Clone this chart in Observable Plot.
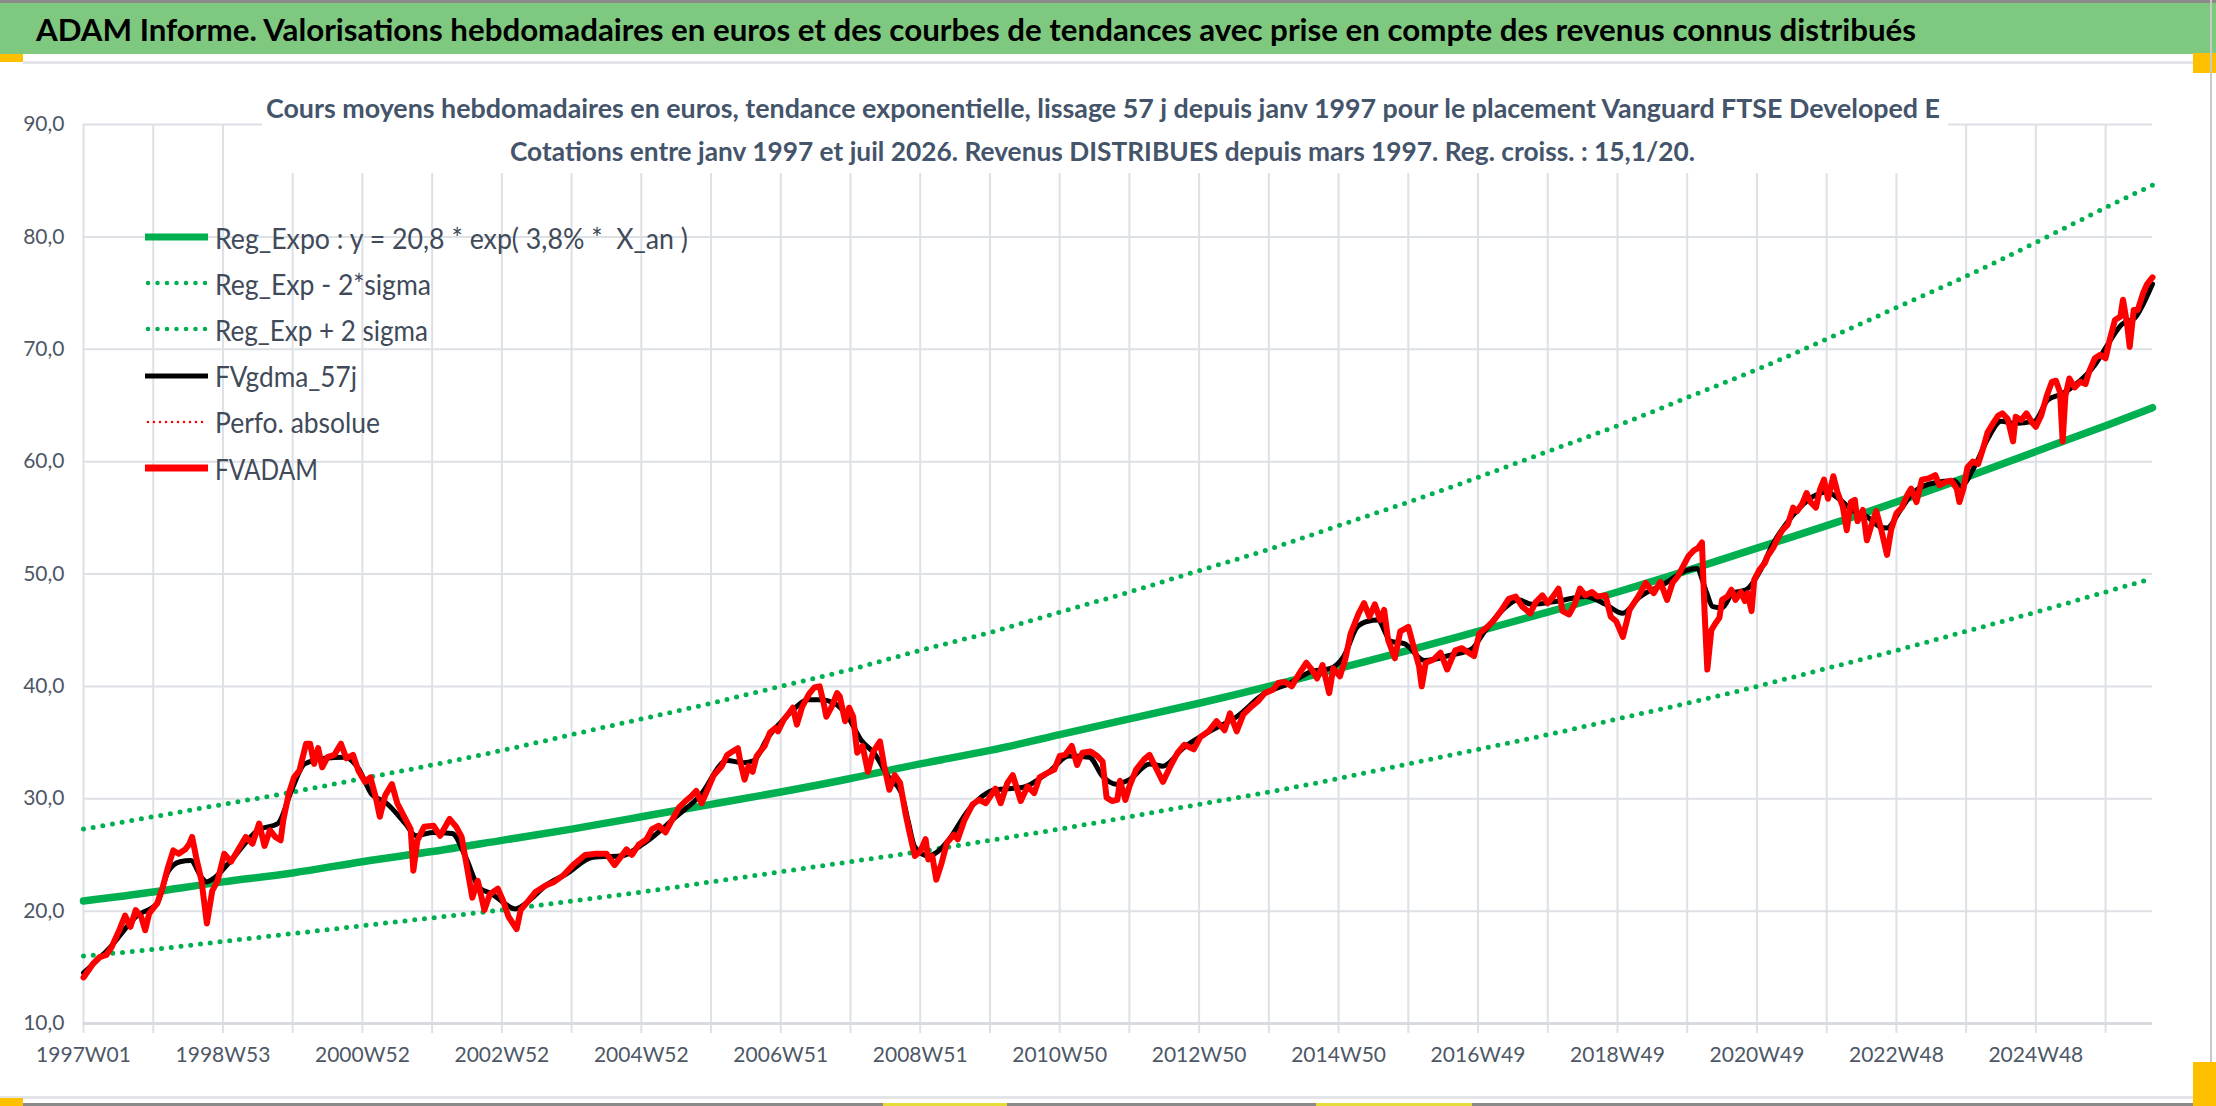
<!DOCTYPE html>
<html>
<head>
<meta charset="utf-8">
<script src="https://cdn.jsdelivr.net/npm/d3@7"></script>
<script src="https://cdn.jsdelivr.net/npm/@observablehq/plot@0.6"></script>
<style>
  html, body { margin: 0; padding: 0; background: #fff; }
  #page { position: relative; width: 2216px; height: 1106px; overflow: hidden; background: #fff; font-family: Lato, "Open Sans", sans-serif; }
  .abs { position: absolute; }
  .fit { display: inline-block; white-space: pre; transform-origin: left center; }
  #title { left: 0; top: 3px; width: 2216px; height: 51px; background: #7EC87F; }
  #titleText { position: absolute; left: 36px; top: 0; line-height: 52px; font-size: 30px; font-weight: 700; color: #000; }
  #subBox { left: 262px; top: 78px; width: 1686px; height: 95px; background: #fff; }
  .sub { position: absolute; font-size: 26px; font-weight: 700; color: #44546A; line-height: 32px; }
  #legend { left: 145px; top: 214px; }
  .row { position: absolute; left: 0; height: 46px; display: flex; align-items: center; }
  .row svg { width: 63px; height: 46px; flex: none; }
  .row .fit { margin-left: 7px; font-size: 29px; color: #404A59; }
  #chart { left: 0; top: 0; }
</style>
</head>
<body>
<div id="page">
  <div class="abs" style="left:0;top:0;width:2216px;height:3px;background:#8A8A8A"></div>
  <div id="title" class="abs"><span id="titleText" class="fit">ADAM Informe. Valorisations hebdomadaires en euros et des courbes de tendances avec prise en compte des revenus connus distribués</span></div>
  <div class="abs" style="left:23px;top:61px;width:2170px;height:3px;background:#E3E5E8"></div>
  <div class="abs" style="left:0;top:54px;width:23px;height:8px;background:#FFC000"></div>
  <div class="abs" style="left:2193px;top:53px;width:23px;height:20px;background:#FFC000"></div>
  <div class="abs" style="left:2210px;top:0;width:2px;height:1106px;background:#C8C8C8"></div>
  <div class="abs" style="left:0;top:1096px;width:2200px;height:3px;background:#E3E5E8"></div>
  <div class="abs" style="left:0;top:1103px;width:2216px;height:3px;background:#8A8A8A"></div>
  <div class="abs" style="left:0;top:1098px;width:23px;height:8px;background:#FFC000"></div>
  <div class="abs" style="left:883px;top:1103px;width:124px;height:3px;background:#E5DC3A"></div>
  <div class="abs" style="left:1316px;top:1103px;width:156px;height:3px;background:#E5DC3A"></div>
  <div class="abs" style="left:2193px;top:1062px;width:23px;height:44px;background:#FFC000"></div>
  <div id="chartWrap"></div>
  <div id="subBox" class="abs">
    <span id="sub1" class="sub fit">Cours moyens hebdomadaires en euros, tendance exponentielle, lissage 57 j depuis janv 1997 pour le placement Vanguard FTSE Developed E</span>
    <span id="sub2" class="sub fit">Cotations entre janv 1997 et juil 2026. Revenus DISTRIBUES depuis mars 1997. Reg. croiss. : 15,1/20.</span>
  </div>
  <div id="legend" class="abs"></div>
</div>
<script>
// ---------- DATA ----------
const xTickLabels = ["1997W01","1998W53","2000W52","2002W52","2004W52","2006W51","2008W51","2010W50","2012W50","2014W50","2016W49","2018W49","2020W49","2022W48","2024W48"];
const weeksPerLabel = 104;
const weeksPerGrid = 52;
const lastWeek = 1543;
const yTicks = [10, 20, 30, 40, 50, 60, 70, 80, 90];

// Reg_Expo trend read at yearly gridlines (week index, value)
const regExpo = [[0,20.9],[52,21.7],[104,22.6],[156,23.4],[208,24.4],[260,25.3],[312,26.3],[364,27.3],[416,28.4],[468,29.5],[520,30.6],[572,31.8],[624,33.1],[676,34.3],[728,35.7],[780,37.1],[832,38.5],[884,40.0],[936,41.6],[988,43.2],[1040,44.9],[1092,46.6],[1144,48.4],[1196,50.3],[1248,52.3],[1300,54.3],[1352,56.4],[1404,58.6],[1456,60.9],[1508,63.2],[1543,64.8]];
const regMinus2Sigma = [[0,16.0],[52,16.6],[104,17.3],[156,18.0],[208,18.7],[260,19.4],[312,20.1],[364,20.9],[416,21.7],[468,22.6],[520,23.5],[572,24.4],[624,25.3],[676,26.3],[728,27.3],[780,28.4],[832,29.5],[884,30.6],[936,31.8],[988,33.1],[1040,34.4],[1092,35.7],[1144,37.1],[1196,38.5],[1248,40.0],[1300,41.6],[1352,43.2],[1404,44.9],[1456,46.6],[1508,48.4],[1543,49.6]];
const regPlus2Sigma = [[0,27.3],[52,28.4],[104,29.5],[156,30.6],[208,31.8],[260,33.0],[312,34.3],[364,35.7],[416,37.1],[468,38.5],[520,40.0],[572,41.5],[624,43.2],[676,44.8],[728,46.6],[780,48.4],[832,50.3],[884,52.2],[936,54.3],[988,56.4],[1040,58.6],[1092,60.9],[1144,63.2],[1196,65.7],[1248,68.2],[1300,70.9],[1352,73.7],[1404,76.5],[1456,79.5],[1508,82.6],[1543,84.6]];

// FVADAM weekly valuation (week index, value)
const fvadam = [[0,14.1],[7,15.3],[12,15.9],[17,16.1],[21,16.8],[27,18.4],[31,19.6],[35,18.6],[39,20.1],[43,19.5],[46,18.3],[49,19.8],[55,20.7],[59,22.1],[63,23.9],[67,25.4],[71,25.1],[76,25.5],[79,26.0],[81,26.6],[84,24.8],[88,22.7],[92,18.9],[96,21.8],[100,22.7],[105,25.1],[110,24.4],[115,25.4],[121,26.6],[126,26.0],[131,27.8],[135,25.8],[139,27.2],[143,26.6],[147,26.3],[149,28.1],[153,30.4],[157,31.9],[161,32.5],[166,34.9],[169,34.9],[172,33.1],[175,34.5],[178,32.8],[182,33.7],[187,33.9],[192,34.9],[196,33.6],[201,33.9],[205,32.5],[210,31.5],[214,31.9],[218,30.1],[221,28.4],[225,30.3],[230,31.3],[234,29.6],[240,28.2],[244,27.3],[246,23.6],[249,26.3],[254,27.5],[261,27.6],[266,26.7],[273,28.2],[278,27.5],[282,26.6],[286,23.9],[290,21.2],[294,22.7],[299,20.1],[303,21.5],[309,22.0],[313,20.9],[317,19.5],[323,18.4],[326,20.1],[331,20.8],[337,21.7],[345,22.3],[351,22.6],[358,23.2],[366,24.2],[374,25.0],[382,25.1],[390,25.1],[396,24.1],
[405,25.5],[409,25.0],[414,25.9],[420,26.4],[424,27.3],[429,27.6],[434,27.0],[438,27.9],[444,29.2],[449,29.8],[453,30.2],[457,30.7],[461,29.6],[465,30.7],[470,32.1],[476,32.9],[480,33.9],[484,34.2],[488,34.5],[490,33.2],[493,31.7],[496,32.9],[499,32.4],[502,33.8],[508,34.7],[512,35.9],[516,36.3],[518,36.0],[522,37.0],[526,37.6],[529,38.1],[532,36.6],[536,38.2],[541,39.3],[545,39.9],[549,40.0],[552,38.5],[554,37.3],[558,38.2],[562,39.4],[564,39.1],[568,36.9],[571,38.1],[574,37.3],[577,34.1],[581,34.7],[585,32.4],[589,34.2],[594,35.1],[597,33.0],[601,30.8],[605,32.1],[609,31.4],[613,28.7],[616,27.0],[620,24.9],[624,25.3],[628,26.4],[630,24.6],[633,24.9],[636,22.8],[640,24.3],[644,26.1],[649,26.8],[652,26.4],[657,28.1],[663,29.5],[668,29.9],[673,29.6],[680,30.9],[684,29.6],[689,31.4],[693,32.1],[699,29.8],[704,31.1],[709,30.5],[713,31.9],[719,32.3],[724,32.6],[728,33.8],[732,33.9],[737,34.7],[741,33.0],[745,34.1],[751,34.2],[756,33.8],[760,33.3],[763,30.1],[767,29.8],[771,29.9],[773,31.6],[777,29.9],[780,31.1],[785,32.6],[791,33.5],[795,33.9],[800,32.7],
[805,31.5],[811,33.0],[816,34.1],[821,34.8],[828,34.4],[833,35.5],[839,36.0],[845,36.9],[851,36.1],[855,37.6],[860,36.0],[865,37.5],[871,38.2],[876,38.7],[881,39.4],[887,39.7],[891,40.3],[896,40.4],[901,40.0],[907,41.2],[912,42.1],[916,41.5],[920,40.7],[924,41.9],[929,39.4],[932,41.6],[937,40.9],[941,42.4],[945,44.7],[951,46.5],[955,47.4],[959,46.2],[963,47.3],[967,45.9],[970,46.8],[973,44.1],[978,42.5],[982,44.9],[988,45.3],[992,43.5],[996,41.8],[998,40.0],[1001,42.1],[1007,42.4],[1012,43.0],[1017,41.5],[1023,43.2],[1028,43.4],[1033,43.0],[1037,42.7],[1041,44.7],[1047,45.3],[1052,45.9],[1057,46.7],[1063,47.8],[1068,48.0],[1073,47.1],[1079,46.5],[1083,47.5],[1088,48.1],[1092,47.4],[1096,48.0],[1100,48.7],[1103,46.7],[1108,46.4],[1112,47.3],[1116,48.7],[1120,48.1],[1125,48.4],[1129,48.0],[1135,48.1],[1139,46.2],[1143,45.8],[1148,44.4],[1153,46.8],[1160,48.1],[1165,49.2],[1171,48.3],[1176,49.3],[1181,47.7],[1185,49.2],[1189,49.8],[1193,50.7],[1197,51.6],[1201,52.1],[1204,52.3],[1207,52.8],
[1209,46.5],[1211,41.5],[1214,45.0],[1217,45.6],[1220,46.1],[1222,47.7],[1226,48.0],[1229,48.6],[1232,47.7],[1236,48.4],[1239,47.6],[1241,48.3],[1244,46.7],[1246,49.5],[1250,50.4],[1254,51.0],[1256,51.6],[1260,52.3],[1264,53.3],[1267,53.9],[1271,54.4],[1275,55.9],[1278,55.6],[1282,56.3],[1285,57.2],[1288,56.4],[1292,55.9],[1295,57.5],[1298,58.4],[1301,56.7],[1305,58.7],[1308,57.3],[1312,56.0],[1315,53.9],[1318,56.4],[1321,56.6],[1323,54.7],[1327,55.7],[1330,53.0],[1333,54.2],[1337,55.6],[1341,53.8],[1345,51.7],[1348,53.9],[1352,55.4],[1356,55.9],[1360,57.0],[1363,57.6],[1367,56.4],[1371,58.4],[1376,58.5],[1381,58.8],[1384,57.9],[1389,58.2],[1393,58.3],[1397,57.6],
[1399,56.4],[1402,57.6],[1405,59.5],[1409,60.0],[1413,59.8],[1417,61.3],[1420,62.6],[1424,63.4],[1428,64.1],[1431,64.3],[1435,63.8],[1439,61.8],[1441,64.0],[1445,63.7],[1449,64.3],[1453,63.5],[1456,63.1],[1460,64.1],[1464,65.8],[1468,67.1],[1471,67.2],[1474,66.2],[1476,61.8],[1478,65.8],[1481,67.4],[1485,66.6],[1489,67.1],[1493,66.9],[1496,68.1],[1500,69.2],[1504,69.5],[1508,69.2],[1511,70.8],[1515,72.6],[1519,72.9],[1521,74.4],[1524,72.3],[1526,70.2],[1529,73.5],[1532,73.5],[1536,75.0],[1539,75.8],[1541,76.1],[1543,76.4]];

// FVgdma_57j smoothed valuation (week index, value)
const fvgdma57 = [[0,14.5],[20,16.8],[40,19.6],[55,20.7],[63,23.5],[72,24.4],[80,24.5],[88,23.0],[92,22.6],[98,23.0],[110,24.5],[130,27.2],[145,27.8],[155,30.7],[165,33.1],[180,33.6],[195,33.7],[205,32.7],[215,30.4],[225,29.7],[240,27.8],[248,26.7],[260,27.0],[275,26.9],[285,24.8],[295,22.1],[305,21.5],[315,20.6],[322,20.2],[332,20.9],[345,22.3],[360,23.3],[380,24.8],[400,24.9],[420,26.2],[440,28.2],[460,30.3],[480,33.4],[492,33.2],[500,33.4],[510,35.4],[520,36.8],[530,38.0],[540,38.8],[550,38.8],[560,38.5],[570,37.3],[580,35.2],[590,34.0],[600,32.0],[610,30.5],[615,28.0],[620,25.7],[630,24.9],[636,25.2],[645,26.3],[660,29.0],[680,30.8],[700,31.0],[720,32.4],[735,33.8],[750,33.7],[760,32.0],[770,31.3],[780,31.7],[795,33.1],[805,32.9],[820,34.5],[840,36.0],[860,37.3],[880,39.3],[900,40.3],[915,41.3],[930,41.6],[940,42.7],[950,45.3],[958,45.8],[965,45.9],[975,44.0],[985,43.8],[1000,42.3],[1020,42.8],[1035,43.3],[1045,44.9],[1060,47.0],[1070,47.7],[1080,47.3],[1100,47.6],[1120,48.0],[1135,47.3],[1148,46.5],[1160,47.9],[1180,49.2],[1195,50.3],[1203,50.5],[1210,48.5],[1215,47.1],[1222,47.0],[1230,48.3],[1240,48.6],[1250,50.2],[1260,52.7],[1270,54.5],[1280,55.9],[1290,56.9],[1300,57.3],[1310,56.6],[1320,55.6],[1330,55.1],[1340,54.2],[1345,54.1],[1355,55.7],[1365,57.3],[1380,58.1],[1395,58.3],[1400,57.8],[1410,59.5],[1420,62.0],[1430,63.6],[1440,63.4],[1455,63.6],[1465,65.5],[1475,66.0],[1485,66.8],[1500,68.6],[1510,70.5],[1520,72.2],[1530,72.8],[1540,75.0],[1543,75.8]];

const legendItems = [
  {label: "Reg_Expo : y = 20,8 * exp( 3,8% *  X_an )", color: "#00B050", width: 7, dash: null, target: 473},
  {label: "Reg_Exp - 2*sigma", color: "#00B050", width: 4.5, dash: "0 9.5", target: 216},
  {label: "Reg_Exp + 2 sigma", color: "#00B050", width: 4.5, dash: "0 9.5", target: 213},
  {label: "FVgdma_57j", color: "#000000", width: 5, dash: null, target: 142},
  {label: "Perfo. absolue", color: "#FF0000", width: 2.5, dash: "0 6", target: 165},
  {label: "FVADAM", color: "#FF0000", width: 7, dash: null, target: 103}
];

// ---------- CHART ----------
const gridColor = "#DDE0E5";
const textColor = "#4D5766";
const gridWeeks = d3.range(0, lastWeek + 1, weeksPerGrid);
const X = d => d[0], Y = d => d[1];

const chart = Plot.plot({
  width: 2216,
  height: 1106,
  marginLeft: 83,
  marginRight: 64,
  marginTop: 124,
  marginBottom: 83,
  style: {background: "transparent", fontFamily: "Lato, 'Open Sans', sans-serif", overflow: "visible"},
  x: {domain: [0, lastWeek]},
  y: {domain: [10, 90]},
  marks: [
    Plot.gridY(yTicks, {stroke: gridColor, strokeOpacity: 1, strokeWidth: 2}),
    Plot.gridX(gridWeeks, {stroke: gridColor, strokeOpacity: 1, strokeWidth: 2}),
    Plot.axisY(yTicks, {tickSize: 0, tickPadding: 19, fontSize: 21, fill: textColor,
      tickFormat: d => d.toFixed(1).replace(".", ",")}),
    Plot.axisX(gridWeeks, {tickSize: 10, tickPadding: 14, fontSize: 21, fill: textColor, stroke: gridColor, strokeWidth: 2,
      tickFormat: d => d % weeksPerLabel === 0 ? xTickLabels[d / weeksPerLabel] : ""}),
    Plot.ruleY([10], {stroke: "#D7DAE0", strokeWidth: 3}),
    Plot.line(regMinus2Sigma, {x: X, y: Y, curve: "natural", stroke: "#00B050", strokeWidth: 5, strokeDasharray: "0 9.8", strokeLinecap: "round"}),
    Plot.line(regPlus2Sigma, {x: X, y: Y, curve: "natural", stroke: "#00B050", strokeWidth: 5, strokeDasharray: "0 9.8", strokeLinecap: "round"}),
    Plot.line(regExpo, {x: X, y: Y, curve: "natural", stroke: "#00B050", strokeWidth: 7.5}),
    Plot.line(fvadam, {x: X, y: Y, stroke: "#FF0000", strokeWidth: 2, strokeDasharray: "0 6", strokeLinecap: "round"}),
    Plot.line(fvgdma57, {x: X, y: Y, curve: "monotone-x", stroke: "#000000", strokeWidth: 5}),
    Plot.line(fvadam, {x: X, y: Y, stroke: "#FF0000", strokeWidth: 6, strokeLinejoin: "round"})
  ]
});
chart.classList.add("abs");
chart.id = "chart";
document.getElementById("chartWrap").appendChild(chart);

// ---------- LEGEND ----------
const legend = document.getElementById("legend");
legendItems.forEach((it, i) => {
  const row = document.createElement("div");
  row.className = "row";
  row.style.top = (i * 46.2) + "px";
  const dash = it.dash ? `stroke-dasharray="${it.dash}" stroke-linecap="round"` : "";
  row.innerHTML = `<svg viewBox="0 0 63 46"><line x1="${it.dash ? 3 : 0}" y1="23" x2="63" y2="23" stroke="${it.color}" stroke-width="${it.width}" ${dash}/></svg><span class="fit" data-target="${it.target}">${it.label}</span>`;
  legend.appendChild(row);
});

// ---------- TEXT FITTING ----------
function fitAll() {
  const fitTo = (el, target) => {
    el.style.transform = "none";
    const w = el.getBoundingClientRect().width;
    if (w > 0) el.style.transform = `scaleX(${target / w})`;
  };
  fitTo(document.getElementById("titleText"), 1880);
  const s1 = document.getElementById("sub1"), s2 = document.getElementById("sub2");
  s1.style.left = (266 - 262) + "px"; s1.style.top = (108 - 78 - 16) + "px";
  s2.style.left = (510 - 262) + "px"; s2.style.top = (151 - 78 - 16) + "px";
  fitTo(s1, 1674);
  fitTo(s2, 1185);
  legend.querySelectorAll(".fit").forEach(el => fitTo(el, +el.dataset.target));
}
fitAll();
if (document.fonts && document.fonts.ready) document.fonts.ready.then(fitAll);
</script>
</body>
</html>
